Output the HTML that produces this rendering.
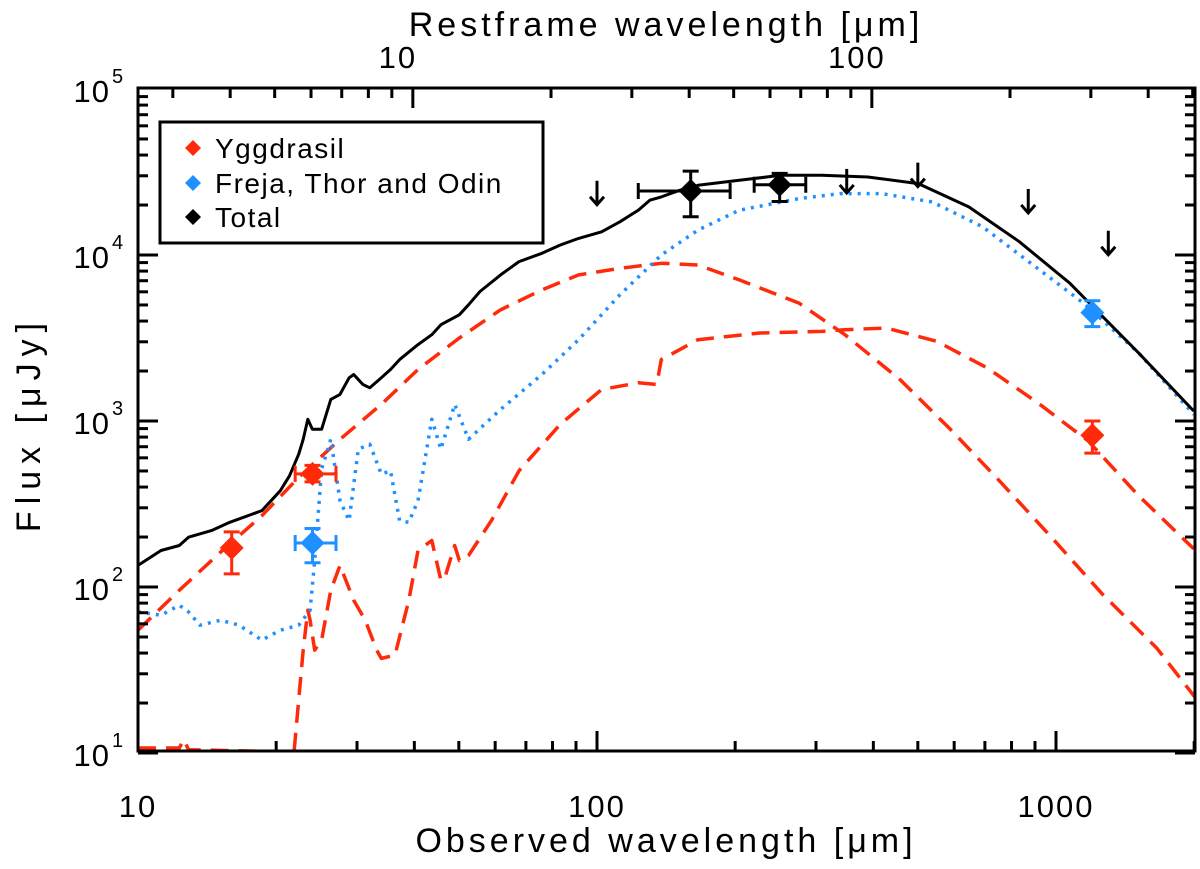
<!DOCTYPE html>
<html><head><meta charset="utf-8"><style>
html,body{margin:0;padding:0;background:#fff;}
svg text{font-family:"Liberation Sans",sans-serif;fill:#000;}
</style></head><body>
<svg id="chart" width="1200" height="864" viewBox="0 0 1200 864" xmlns="http://www.w3.org/2000/svg">
</svg>
<script>
// ---- data (log10 wavelength [um], log10 flux [uJy]) ----
const totalLogWave=[1.00,1.05,1.09,1.11,1.16,1.20,1.24,1.27,1.29,1.31,1.33,1.35,1.36,1.37,1.38,1.40,1.42,1.44,1.46,1.47,1.49,1.505,1.53,1.55,1.57,1.61,1.64,1.66,1.70,1.72,1.745,1.79,1.83,1.88,1.92,1.96,2.01,2.05,2.09,2.115,2.14,2.18,2.22,2.31,2.40,2.49,2.59,2.70,2.81,2.92,3.03,3.08,3.18,3.30];
const totalLogFlux=[2.13,2.22,2.25,2.30,2.34,2.39,2.43,2.46,2.52,2.58,2.67,2.80,2.89,3.01,2.95,2.95,3.13,3.16,3.26,3.28,3.22,3.20,3.26,3.31,3.37,3.46,3.52,3.58,3.64,3.70,3.78,3.88,3.96,4.01,4.06,4.10,4.14,4.20,4.27,4.33,4.35,4.39,4.42,4.45,4.48,4.48,4.47,4.43,4.29,4.08,3.83,3.69,3.41,3.06];
const yggALogWave=[1.00,1.09,1.18,1.27,1.35,1.44,1.53,1.61,1.70,1.79,1.88,1.96,2.05,2.14,2.22,2.31,2.44,2.54,2.66,2.77,2.88,2.99,3.10,3.22,3.31];
const yggALogFlux=[1.74,1.98,2.21,2.43,2.66,2.89,3.10,3.31,3.50,3.67,3.79,3.88,3.92,3.95,3.94,3.85,3.71,3.52,3.25,2.95,2.63,2.30,1.96,1.63,1.31];
const yggBLogWave=[1.00,1.09,1.10,1.11,1.27,1.34,1.35,1.36,1.37,1.375,1.385,1.40,1.42,1.44,1.47,1.495,1.52,1.53,1.56,1.59,1.61,1.64,1.66,1.67,1.69,1.70,1.72,1.77,1.83,1.92,2.01,2.09,2.13,2.14,2.22,2.355,2.49,2.54,2.63,2.74,2.85,2.96,3.07,3.18,3.30];
const yggBLogFlux=[1.03,1.03,1.08,1.02,1.01,1.01,1.32,1.62,1.86,1.80,1.62,1.68,1.98,2.13,1.92,1.80,1.62,1.57,1.59,1.92,2.22,2.28,2.04,2.07,2.25,2.16,2.19,2.40,2.70,2.98,3.19,3.23,3.22,3.37,3.49,3.53,3.54,3.55,3.56,3.48,3.32,3.11,2.88,2.55,2.23];
const ftoLogWave=[1.00,1.05,1.09,1.11,1.135,1.18,1.22,1.27,1.31,1.35,1.375,1.385,1.40,1.42,1.44,1.46,1.48,1.505,1.53,1.55,1.57,1.59,1.61,1.64,1.66,1.69,1.72,1.79,1.88,1.96,2.05,2.14,2.22,2.31,2.44,2.53,2.62,2.73,2.84,2.95,3.06,3.18,3.30];
const ftoLogFlux=[1.85,1.83,1.89,1.85,1.77,1.80,1.77,1.68,1.74,1.77,1.86,2.16,2.71,2.89,2.52,2.40,2.83,2.86,2.68,2.70,2.40,2.39,2.52,3.01,2.83,3.10,2.89,3.07,3.28,3.49,3.76,4.00,4.15,4.27,4.34,4.37,4.37,4.32,4.17,3.94,3.71,3.41,3.04];
// photometry (um, uJy)
const yggWave=[16,24,1200], yggFlux=[172,480,820], yggLo=[120,430,640], yggHi=[215,540,1000], yggWLo=[16,22,1200], yggWHi=[16,27,1200];
const ftoWave=[24,1200], ftoFlux=[184,4500], ftoLo=[140,3700], ftoHi=[225,5300], ftoWLo=[22,1200], ftoWHi=[27,1200];
const totWave=[160,250], totFlux=[24300,26500], totLo=[17000,21000], totHi=[32000,31000], totWLo=[123,220], totWHi=[195,285];
const limWave=[100,350,500,870,1300], limFlux=[28000,33000,36000,25000,14000];
const xTickMajor=[10,100,1000], xTickLabels=["10","100","1000"];
const yTickExp=[1,2,3,4,5];
const restTickMajor=[10,100], restZ1=3.97;

const L=138,R=1195,T=88,B=751;
const xl=lw=>L+(lw-1)*459;
const X=w=>xl(Math.log10(w));
const yl=lf=>255-(lf-4)*166;
const Y=f=>yl(Math.log10(f));
const NS="http://www.w3.org/2000/svg";
const svg=document.getElementById('chart');
function mk(tag,at,parent){const e=document.createElementNS(NS,tag);for(const k in at)e.setAttribute(k,at[k]);(parent||svg).appendChild(e);return e;}

const defs=mk('defs',{});const cp=mk('clipPath',{id:'pc'},defs);mk('rect',{x:L,y:T,width:R-L,height:B-T},cp);
const curves=mk('g',{'clip-path':'url(#pc)'});


function curve(lw,lf,st,name){const d=lw.map((v,i)=>(i?'L':'M')+xl(v).toFixed(1)+','+yl(lf[i]).toFixed(1)).join('');
 const p=mk('path',Object.assign({d:d,fill:'none','stroke-linejoin':'round'},st),curves);
 
 }
curve(yggALogWave,yggALogFlux,{stroke:'#ff2a0a','stroke-width':3.5,'stroke-dasharray':'18,10'},'yggdrasil-model-a');
curve(yggBLogWave,yggBLogFlux,{stroke:'#ff2a0a','stroke-width':3.5,'stroke-dasharray':'18,10'},'yggdrasil-model-b');
curve(ftoLogWave,ftoLogFlux,{stroke:'#1e90ff','stroke-width':3.5,'stroke-dasharray':'3,6'},'freja-thor-odin-model');
curve(totalLogWave,totalLogFlux,{stroke:'#000','stroke-width':3},'total-model');

const fr=mk('rect',{x:L,y:T,width:R-L,height:B-T,fill:'none',stroke:'#000','stroke-width':3});


const ticks=mk('g',{stroke:'#000','stroke-width':3});


for(let d=1;d<=1000;d*=10){for(let m=1;m<10;m++){const w=d*m;if(w<10||w>2000)continue;const x=X(w);const len=(m===1)?20:10;
 mk('line',{x1:x,y1:B,x2:x,y2:B-len},ticks);}}
for(let e=1;e<5;e++){for(let m=1;m<10;m++){const y=Y(m*Math.pow(10,e));if(y<T)continue;const len=(m===1)?20:10;
 mk('line',{x1:L,y1:y,x2:L+len,y2:y},ticks);mk('line',{x1:R,y1:y,x2:R-len,y2:y},ticks);}}
for(let d=1;d<=100;d*=10){for(let m=1;m<10;m++){const w=d*m*restZ1;if(w<10||w>2000)continue;const x=X(w);const len=(m===1)?20:10;
 mk('line',{x1:x,y1:T,x2:x,y2:T+len},ticks);}}
xTickMajor.forEach((w,i)=>{const t=mk('text',{x:X(w),y:817,'font-size':31,'letter-spacing':2,'text-anchor':'middle'});t.textContent=xTickLabels[i];
 
 });
restTickMajor.forEach(w=>{const t=mk('text',{x:X(w*restZ1)-15,y:68,'font-size':31,'letter-spacing':2,'text-anchor':'middle'});t.textContent=String(w);
 
 });
yTickExp.forEach(e=>{const y=Y(Math.pow(10,e));const t=mk('text',{x:110,y:y+13,'font-size':31,'letter-spacing':1,'text-anchor':'end'});t.textContent='10';
 
 
 const s=mk('text',{x:112,y:y-6,'font-size':20});s.textContent=String(e);
 
 });

function pts(w,f,lo,hi,wl,wh,col,name){w.forEach((v,i)=>{const g=mk('g',{stroke:col,'stroke-width':3});
 
 
 const x=X(v),y=Y(f[i]),y1=Y(lo[i]),y2=Y(hi[i]),x1=X(wl[i]),x2=X(wh[i]);
 mk('line',{x1:x,y1:y1,x2:x,y2:y2},g);mk('line',{x1:x-8,y1:y1,x2:x+8,y2:y1},g);mk('line',{x1:x-8,y1:y2,x2:x+8,y2:y2},g);
 if(x2-x1>2){mk('line',{x1:x1,y1:y,x2:x2,y2:y},g);mk('line',{x1:x1,y1:y-8,x2:x1,y2:y+8},g);mk('line',{x1:x2,y1:y-8,x2:x2,y2:y+8},g);}
 mk('path',{d:`M${x},${y-12}L${x+12},${y}L${x},${y+12}L${x-12},${y}Z`,fill:col,stroke:'none'},g);});}
pts(yggWave,yggFlux,yggLo,yggHi,yggWLo,yggWHi,'#ff2a0a','yggdrasil-point');
pts(ftoWave,ftoFlux,ftoLo,ftoHi,ftoWLo,ftoWHi,'#1e90ff','freja-thor-odin-point');
pts(totWave,totFlux,totLo,totHi,totWLo,totWHi,'#000','total-point');
limWave.forEach((w,i)=>{const x=X(w),y=Y(limFlux[i]);const g=mk('g',{stroke:'#000','stroke-width':3,fill:'none'});
 
 
 mk('line',{x1:x,y1:y,x2:x,y2:y+24},g);mk('path',{d:`M${x-7},${y+16}L${x},${y+24}L${x+7},${y+16}`},g);});

const lg=mk('g',{});


mk('rect',{x:160,y:122,width:383,height:121,fill:'#fff',stroke:'#000','stroke-width':3},lg);
[['Yggdrasil','#ff2a0a',148],['Freja, Thor and Odin','#1e90ff',183],['Total','#000',217]].forEach(([n,c,y])=>{
 const e=mk('g',{},lg);
 
 
 mk('path',{d:`M193,${y-8}L201,${y}L193,${y+8}L185,${y}Z`,fill:c},e);
 const t=mk('text',{x:215,y:y+10,'font-size':28,'letter-spacing':1.5},e);t.textContent=n;});

const xt=mk('text',{x:666,y:852,'font-size':34,'letter-spacing':4,'text-anchor':'middle'});xt.textContent='Observed wavelength [μm]';


const tt=mk('text',{x:666,y:36,'font-size':34,'letter-spacing':4,'text-anchor':'middle'});tt.textContent='Restframe wavelength [μm]';


const yt=mk('text',{x:0,y:0,'font-size':34,'letter-spacing':7,'text-anchor':'middle',transform:'translate(40,424) rotate(-90)'});yt.textContent='Flux [μJy]';


</script>
</body></html>
